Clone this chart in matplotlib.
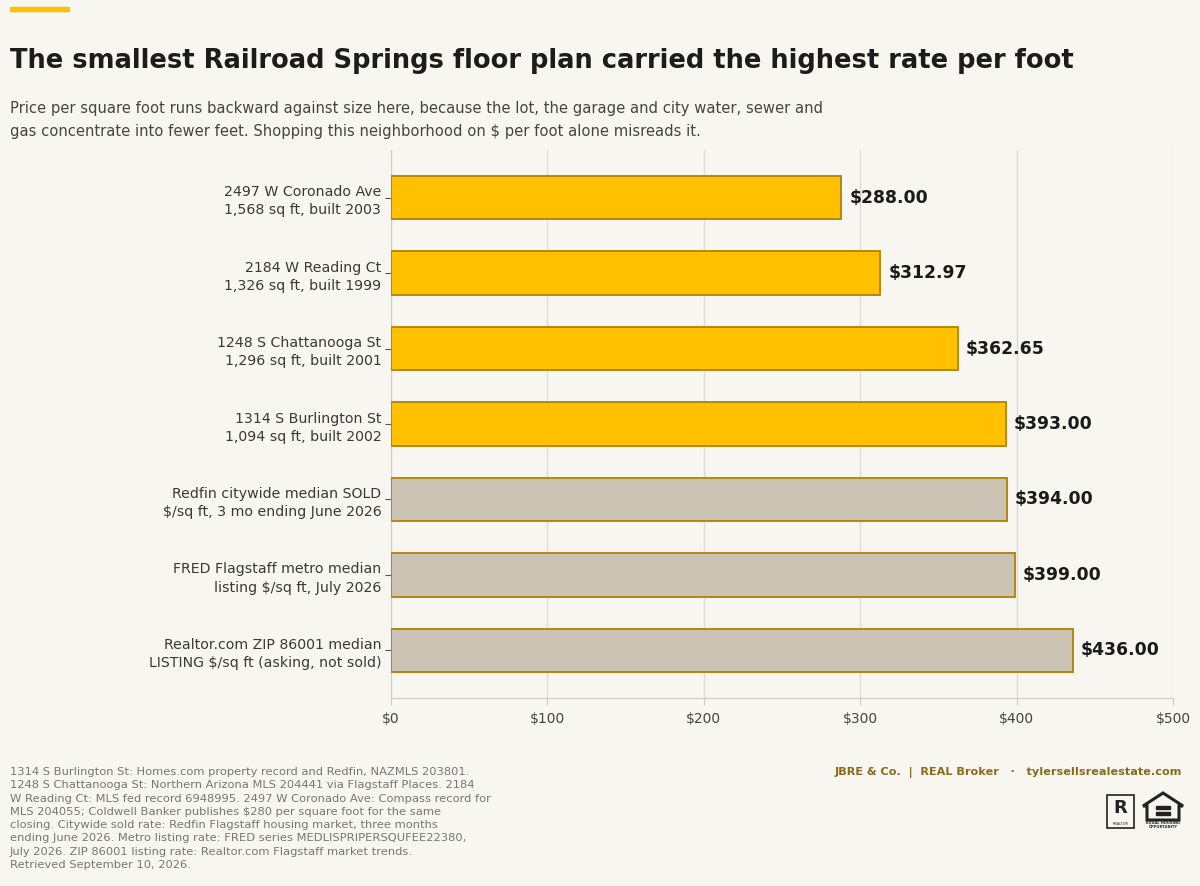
import matplotlib.pyplot as plt
from matplotlib.patches import Rectangle, Polygon

labels = [
    "2497 W Coronado Ave\n1,568 sq ft, built 2003",
    "2184 W Reading Ct\n1,326 sq ft, built 1999",
    "1248 S Chattanooga St\n1,296 sq ft, built 2001",
    "1314 S Burlington St\n1,094 sq ft, built 2002",
    "Redfin citywide median SOLD\n$/sq ft, 3 mo ending June 2026",
    "FRED Flagstaff metro median\nlisting $/sq ft, July 2026",
    "Realtor.com ZIP 86001 median\nLISTING $/sq ft (asking, not sold)",
]
values = [288.00, 312.97, 362.65, 393.00, 394.00, 399.00, 436.00]
is_home = [True, True, True, True, False, False, False]
xticks = [0, 100, 200, 300, 400, 500]

title = "The smallest Railroad Springs floor plan carried the highest rate per foot"
subtitle = ("Price per square foot runs backward against size here, because the lot, the garage and city water, sewer and\n"
            "gas concentrate into fewer feet. Shopping this neighborhood on $ per foot alone misreads it.")
source = ("1314 S Burlington St: Homes.com property record and Redfin, NAZMLS 203801.\n"
          "1248 S Chattanooga St: Northern Arizona MLS 204441 via Flagstaff Places. 2184\n"
          "W Reading Ct: MLS fed record 6948995. 2497 W Coronado Ave: Compass record for\n"
          "MLS 204055; Coldwell Banker publishes $280 per square foot for the same\n"
          "closing. Citywide sold rate: Redfin Flagstaff housing market, three months\n"
          "ending June 2026. Metro listing rate: FRED series MEDLISPRIPERSQUFEE22380,\n"
          "July 2026. ZIP 86001 listing rate: Realtor.com Flagstaff market trends.\n"
          "Retrieved September 10, 2026.")
credit = "JBRE & Co.  |  REAL Broker   \u00b7   tylersellsrealestate.com"

bg = "#f7f6f1"
gold = "#ffc000"
gold_edge = "#b8860b"
grey = "#cbc4b4"

plt.rcParams['font.family'] = ['DejaVu Sans']

fig = plt.figure(figsize=(12, 8.86), dpi=100, facecolor=bg)
ax = fig.add_axes([391/1200, 1-698/886, (1173-391)/1200, (698-150)/886])
ax.set_facecolor(bg)

colors = [gold if h else grey for h in is_home]
ypos = list(range(len(values)))
ax.barh(ypos, values, height=0.58, color=colors, edgecolor=gold_edge, linewidth=1.4, zorder=3)

for y, v in zip(ypos, values):
    ax.text(v + 5, y, f"${v:,.2f}", va='center', ha='left', fontsize=12.4,
            fontweight='bold', color='#1a1a1a', zorder=4)

ax.set_xlim(0, 500)
ax.set_ylim(6.63, -0.63)
ax.set_xticks(xticks)
ax.set_xticklabels([f"${t}" for t in xticks], fontsize=10, color='#444444')
ax.set_yticks(ypos)
ax.set_yticklabels(labels, fontsize=10.2, color='#3a3a3a', linespacing=1.4)
ax.tick_params(axis='y', length=4, color='#555555', pad=3)
ax.tick_params(axis='x', length=5, color='#cccccc', pad=5)
ax.grid(axis='x', color='#dedcd5', linewidth=1, zorder=0)
for s in ['top', 'right']:
    ax.spines[s].set_visible(False)
ax.spines['left'].set_color('#cccccc')
ax.spines['bottom'].set_color('#cccccc')

# accent bar and headings
fig.patches.append(Rectangle((10/1200, 1-11/886), 59/1200, 4/886, transform=fig.transFigure,
                             color=gold, zorder=5))
fig.text(10/1200, 1-61/886, title, fontsize=18.5, fontweight='bold', color='#1c1c1c',
         va='center', ha='left')
fig.text(10/1200, 1-120/886, subtitle, fontsize=10.65, color='#444444', va='center', ha='left',
         linespacing=1.6)

fig.text(10/1200, 1-767/886, source, fontsize=8.25, color='#777777', va='top', ha='left',
         linespacing=1.41)
fig.text(1182/1200, 1-773/886, credit, fontsize=8.1, fontweight='bold', color='#8a6a1a',
         va='center', ha='right')

# realtor mark
fig.patches.append(Rectangle((1107/1200, 1-828/886), 27/1200, 33/886, transform=fig.transFigure,
                             fill=False, edgecolor='#222222', linewidth=1.2))
fig.text(1120.5/1200, 1-808/886, "R", fontsize=13, fontweight='bold', color='#222222',
         ha='center', va='center')
fig.text(1120.5/1200, 1-824/886, "REALTOR", fontsize=2.5, color='#222222', ha='center', va='center')
# equal housing mark
fig.patches.append(Polygon([(1143/1200, 1-806/886), (1163/1200, 1-793/886), (1183/1200, 1-806/886),
                            (1179/1200, 1-806/886), (1179/1200, 1-820/886), (1147/1200, 1-820/886),
                            (1147/1200, 1-806/886)], closed=True, transform=fig.transFigure,
                           fill=False, edgecolor='#222222', linewidth=2.2))
fig.patches.append(Rectangle((1156/1200, 1-809/886), 14/1200, 3/886, transform=fig.transFigure,
                             color='#222222'))
fig.patches.append(Rectangle((1156/1200, 1-815/886), 14/1200, 3/886, transform=fig.transFigure,
                             color='#222222'))
fig.text(1163/1200, 1-825/886, "EQUAL HOUSING\nOPPORTUNITY", fontsize=2.6, fontweight='bold',
         color='#222222', ha='center', va='center', linespacing=1.1)

fig.savefig("out.png", dpi=100, facecolor=bg)
